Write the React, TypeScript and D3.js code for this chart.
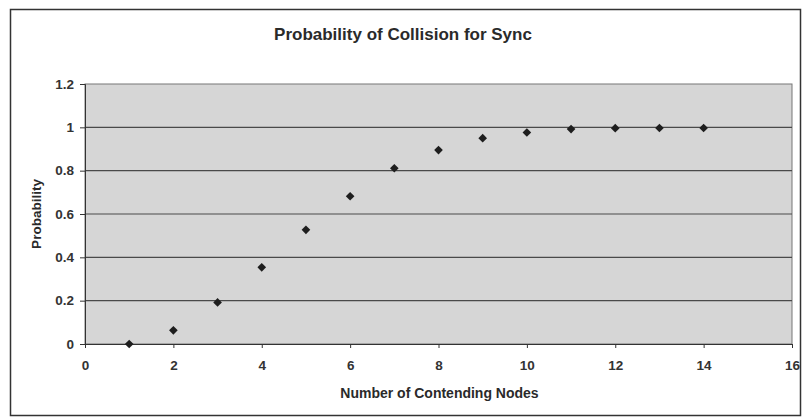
import { useEffect, useRef } from "react";
import * as d3 from "d3";

// number of contending nodes vs probability of collision
const nodes = [1, 2, 3, 4, 5, 6, 7, 8, 9, 10, 11, 12, 13, 14];
const probability = [0, 0.063, 0.192, 0.354, 0.527, 0.682, 0.811, 0.895, 0.95, 0.976, 0.992, 0.996, 0.997, 0.997];
const xTicks = [0, 2, 4, 6, 8, 10, 12, 14, 16];
const yTicks = [0, 0.2, 0.4, 0.6, 0.8, 1, 1.2];

const W = 803;
const H = 418;
const margin = { top: 84, right: 11, bottom: 74, left: 85 };

export default function App() {
  const ref = useRef<SVGSVGElement | null>(null);

  useEffect(() => {
    const svg = d3.select(ref.current);
    svg.selectAll("*").remove();

    const x = d3.scaleLinear().domain([0, 16]).range([margin.left, W - margin.right]);
    const y = d3.scaleLinear().domain([0, 1.2]).range([H - margin.bottom, margin.top]);

    // outer chart frame
    svg.append("rect").attr("width", W).attr("height", H).attr("fill", "#fff");
    svg
      .append("rect")
      .attr("x", 10.5)
      .attr("y", 9.5)
      .attr("width", 790)
      .attr("height", 406)
      .attr("fill", "none")
      .attr("stroke", "#333")
      .attr("stroke-width", 1.5);

    // plot area
    svg
      .append("rect")
      .attr("x", x(0))
      .attr("y", y(1.2))
      .attr("width", x(16) - x(0))
      .attr("height", y(0) - y(1.2))
      .attr("fill", "#d6d6d6")
      .attr("stroke", "#777")
      .attr("stroke-width", 1);

    // gridlines
    svg
      .append("g")
      .selectAll("line")
      .data(yTicks.filter((d) => d > 0 && d < 1.2))
      .join("line")
      .attr("x1", x(0))
      .attr("x2", x(16))
      .attr("y1", (d) => y(d))
      .attr("y2", (d) => y(d))
      .attr("stroke", "#4a4a4a")
      .attr("stroke-width", 1.2);

    const fontFamily = "Liberation Sans, Arial, sans-serif";

    // y axis
    const yAxis = svg
      .append("g")
      .attr("transform", `translate(${x(0)},0)`)
      .call(d3.axisLeft(y).tickValues(yTicks).tickSize(5).tickPadding(6).tickFormat(d3.format("")));
    yAxis.select(".domain").attr("stroke", "#333");
    yAxis.selectAll(".tick line").attr("stroke", "#333");
    yAxis
      .selectAll(".tick text")
      .attr("font-family", fontFamily)
      .attr("font-size", 13.5)
      .attr("font-weight", "bold")
      .attr("fill", "#333");

    // x axis
    const xAxis = svg
      .append("g")
      .attr("transform", `translate(0,${y(0)})`)
      .call(d3.axisBottom(x).tickValues(xTicks).tickSize(4).tickPadding(12));
    xAxis.select(".domain").attr("stroke", "#333");
    xAxis.selectAll(".tick line").attr("stroke", "#333");
    xAxis
      .selectAll(".tick text")
      .attr("font-family", fontFamily)
      .attr("font-size", 13.5)
      .attr("font-weight", "bold")
      .attr("fill", "#333");

    // markers (square diamonds)
    const diamond = d3.symbol().type(d3.symbolDiamond2).size(48);
    svg
      .append("g")
      .selectAll("path")
      .data(nodes.map((n, i) => ({ n, p: probability[i] })))
      .join("path")
      .attr("d", diamond)
      .attr("transform", (d) => `translate(${x(d.n)},${y(d.p)})`)
      .attr("fill", "#1e1e1e");

    // titles
    svg
      .append("text")
      .attr("x", 403)
      .attr("y", 40)
      .attr("text-anchor", "middle")
      .attr("font-family", fontFamily)
      .attr("font-size", 17)
      .attr("font-weight", "bold")
      .attr("fill", "#2a2a2a")
      .text("Probability of Collision for Sync");

    svg
      .append("text")
      .attr("x", (x(0) + x(16)) / 2 + 1)
      .attr("y", 398)
      .attr("text-anchor", "middle")
      .attr("font-family", fontFamily)
      .attr("font-size", 14)
      .attr("font-weight", "bold")
      .attr("fill", "#2a2a2a")
      .text("Number of Contending Nodes");

    svg
      .append("text")
      .attr("transform", `translate(41,${(y(0) + y(1.2)) / 2}) rotate(-90)`)
      .attr("text-anchor", "middle")
      .attr("font-family", fontFamily)
      .attr("font-size", 13.5)
      .attr("font-weight", "bold")
      .attr("fill", "#2a2a2a")
      .text("Probability");
  }, []);

  return (
    <svg
      ref={ref}
      width={W}
      height={H}
      style={{ position: "absolute", left: 0, top: 0, display: "block" }}
    />
  );
}
